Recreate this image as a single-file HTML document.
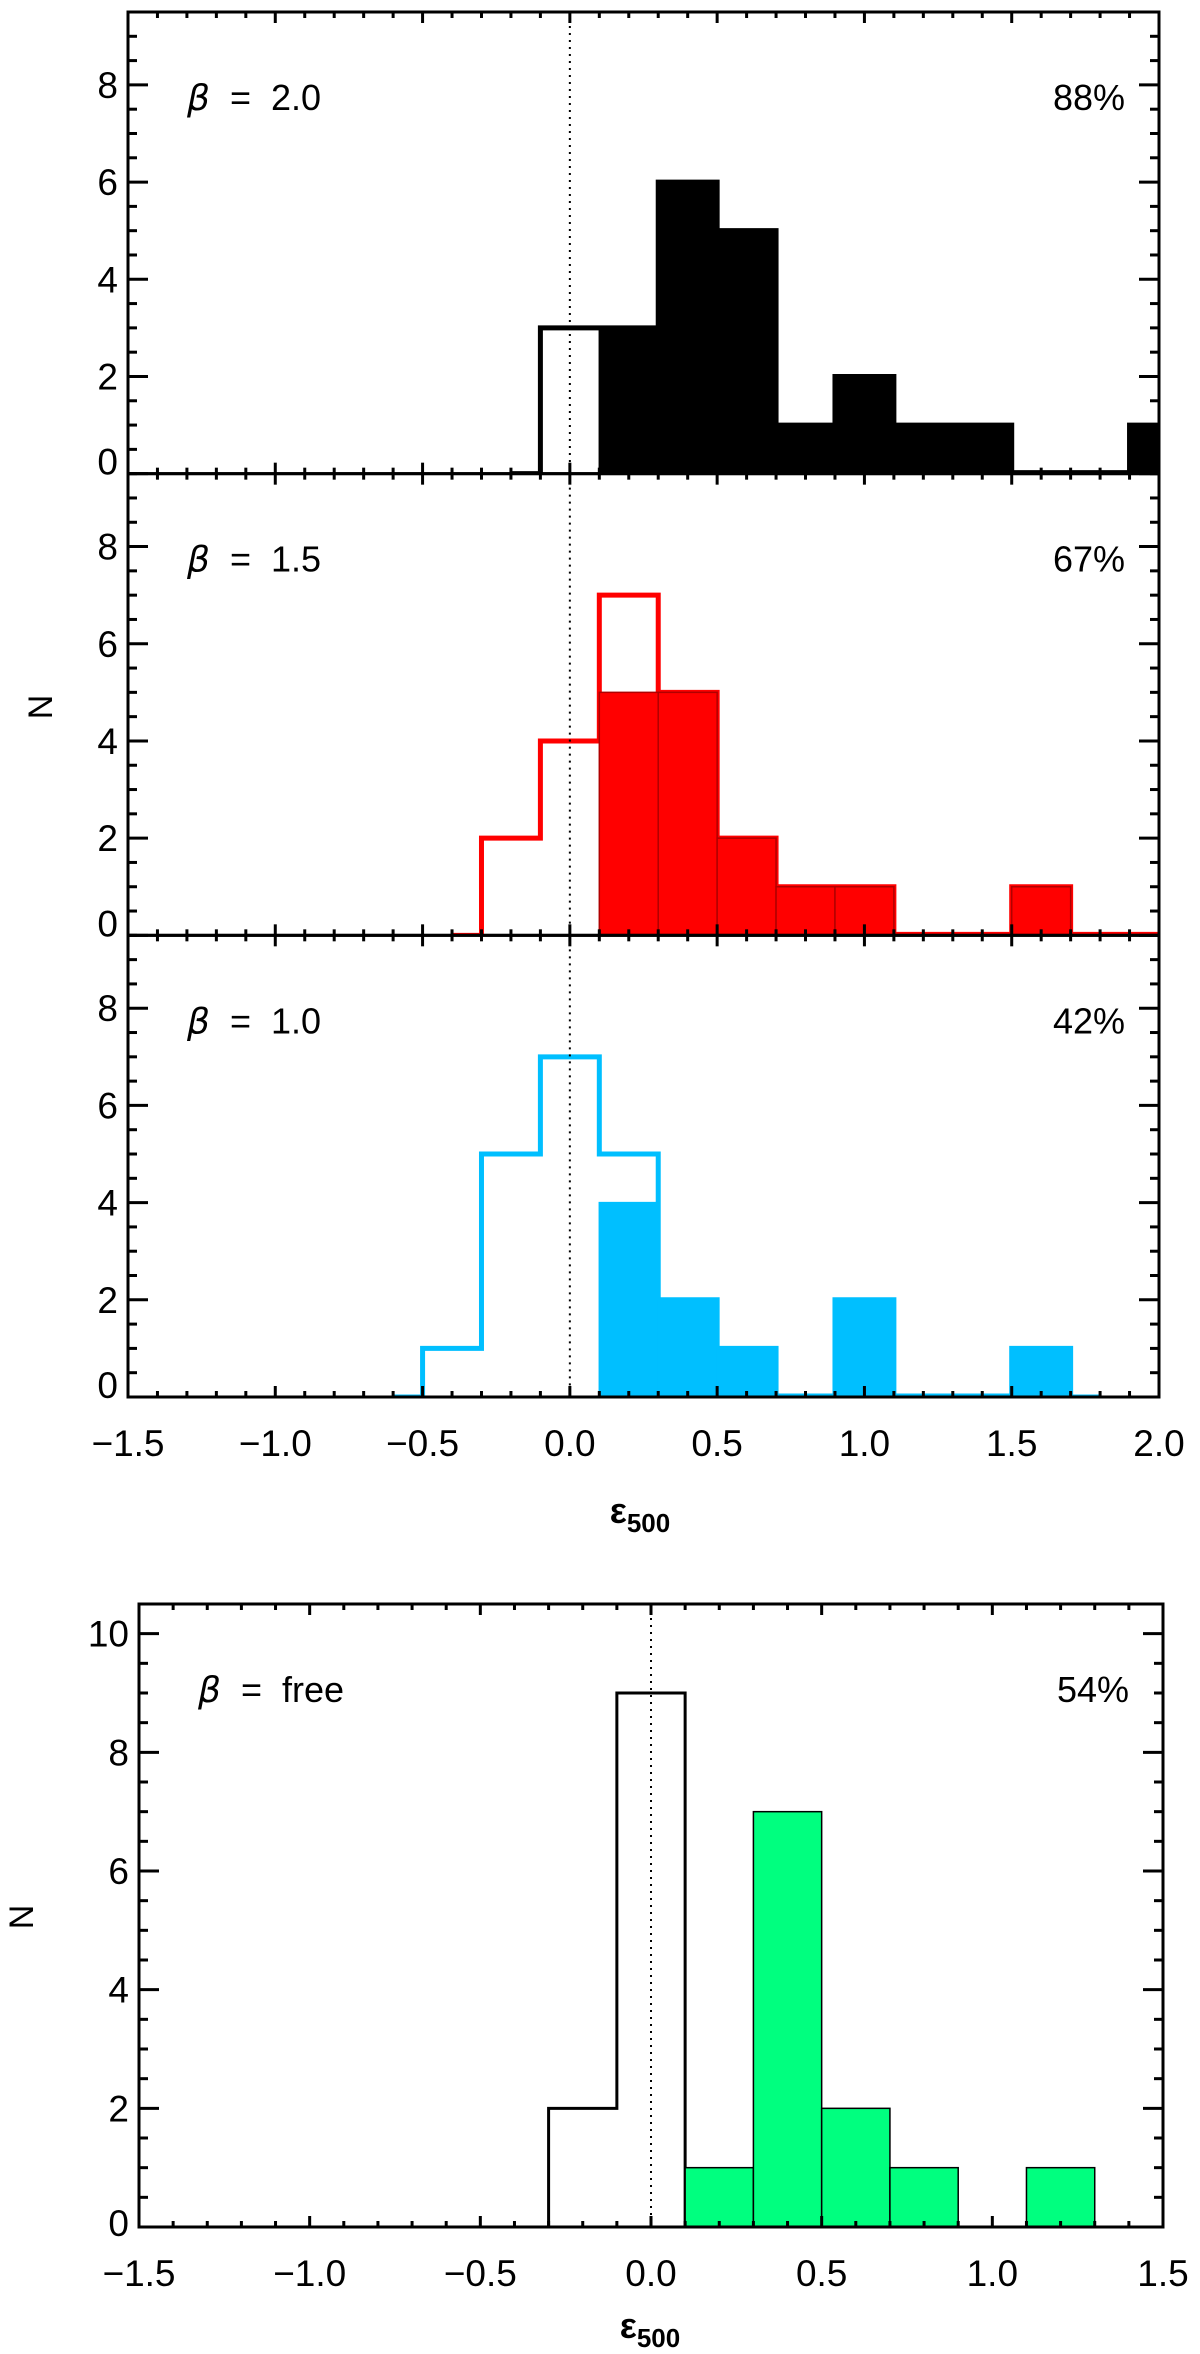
<!DOCTYPE html>
<html><head><meta charset="utf-8"><style>
html,body{margin:0;padding:0;background:#fff;}
svg{display:block;font-family:"Liberation Sans","DejaVu Sans",sans-serif;}
</style></head><body>
<svg id="fig" width="1200" height="2354" viewBox="0 0 1200 2354" xmlns="http://www.w3.org/2000/svg"></svg>
<script>
// ---- data ----
const betaLabels = ["2.0", "1.5", "1.0"];
const percentLabels = ["88%", "67%", "42%"];
const panelColors = ["#000000", "#ff0000", "#00bfff"];
const panelEdge = ["#000000", "#b00000", "#00bfff"];
const blackCenters = [-0.2,0.0,0.2,0.4,0.6,0.8,1.0,1.2,1.4,1.6,1.8,2.0];
const blackTotal   = [0,3,3,6,5,1,2,1,1,0,0,1];
const blackFillCenters = [0.2,0.4,0.6,0.8,1.0,1.2,1.4,1.6,1.8,2.0];
const blackFill        = [3,6,5,1,2,1,1,0,0,1];
const redCenters = [-0.4,-0.2,0.0,0.2,0.4,0.6,0.8,1.0,1.2,1.4,1.6,1.8,2.0];
const redTotal   = [0,2,4,7,5,2,1,1,0,0,1,0,0];
const redFillCenters = [0.2,0.4,0.6,0.8,1.0,1.2,1.4,1.6,1.8,2.0];
const redFill        = [5,5,2,1,1,0,0,1,0,0];
const blueCenters = [-0.6,-0.4,-0.2,0.0,0.2,0.4,0.6,0.8,1.0,1.2,1.4,1.6,1.8];
const blueTotal   = [0,1,5,7,5,2,1,0,2,0,0,1,0];
const blueFillCenters = [0.2,0.4,0.6,0.8,1.0,1.2,1.4,1.6];
const blueFill        = [4,2,1,0,2,0,0,1];
const freeCenters = [-0.2,0.0];
const freeTotal   = [2,9];
const freeFillCenters = [0.2,0.4,0.6,0.8,1.0,1.2];
const freeFill        = [1,7,2,1,0,1];
const topXTicks = [-1.5,-1.0,-0.5,0.0,0.5,1.0,1.5,2.0];
const topXTickLabels = ["\u22121.5","\u22121.0","\u22120.5","0.0","0.5","1.0","1.5","2.0"];
const botXTicks = [-1.5,-1.0,-0.5,0.0,0.5,1.0,1.5];
const botXTickLabels = ["\u22121.5","\u22121.0","\u22120.5","0.0","0.5","1.0","1.5"];
const topYTicks = [0,2,4,6,8];
const botYTicks = [0,2,4,6,8,10];
const BIN = 0.2;

const NS="http://www.w3.org/2000/svg";
const svg=document.getElementById('fig');
function mk(tag,attrs,parent){const e=document.createElementNS(NS,tag);for(const k in attrs)e.setAttribute(k,attrs[k]);(parent||svg).appendChild(e);return e;}

function panel(o){
  const g=mk('g',{});
  
  
  const X=v=>o.x0+(v-o.xmin)/(o.xmax-o.xmin)*(o.x1-o.x0);
  const Y=v=>o.y1-(v-o.ymin)/(o.ymax-o.ymin)*(o.y1-o.y0);
  const clip='clip-'+o.name;
  const cp=mk('clipPath',{id:clip},g);mk('rect',{x:o.x0,y:o.y0,width:o.x1-o.x0,height:o.y1-o.y0},cp);
  const plot=mk('g',{'clip-path':'url(#'+clip+')'},g);
  let d='';
  const n=o.centers.length;
  o.centers.forEach((c,i)=>{
    const v=o.total[i];
    const a=(i===0)?(v===0?c:c-BIN/2):c-BIN/2;
    const b=(i===n-1&&v===0)?c:c+BIN/2;
    if(i===0) d+=`M${X(a)},${Y(0)}L${X(a)},${Y(v)}`;
    else d+=`L${X(a)},${Y(v)}`;
    d+=`L${X(b)},${Y(v)}`;
    if(i===n-1) d+=`L${X(b)},${Y(0)}`;
  });
  const outline=mk('path',{d:d,fill:'none',stroke:o.color,'stroke-width':o.lw},plot);
  
  
  o.fillCenters.forEach((c,i)=>{
    const v=o.fill[i];
    if(v===0){ if(o.zeroLine) mk('line',{x1:X(c-BIN/2),x2:X(c+BIN/2),y1:Y(0)-1,y2:Y(0)-1,stroke:o.fillColor,'stroke-width':o.lw},plot); return; }
    const r=mk('rect',{x:X(c-BIN/2),y:Y(v),width:X(c+BIN/2)-X(c-BIN/2),height:Y(0)-Y(v),fill:o.fillColor,stroke:o.edge,'stroke-width':1.5},plot);
    
    
  });
  const dl=mk('line',{x1:X(0),x2:X(0),y1:o.y0,y2:o.y1,stroke:'#000','stroke-width':2,'stroke-dasharray':'2,5'},g);
  
  
  mk('rect',{x:o.x0,y:o.y0,width:o.x1-o.x0,height:o.y1-o.y0,fill:'none',stroke:'#000','stroke-width':3},g);
  for(let v=o.xmin;v<=o.xmax+1e-6;v+=0.1){
    const maj=Math.abs(v*2-Math.round(v*2))<1e-6;const L=maj?11:6;
    mk('line',{x1:X(v),x2:X(v),y1:o.y1,y2:o.y1-L,stroke:'#000','stroke-width':3},g);
    mk('line',{x1:X(v),x2:X(v),y1:o.y0,y2:o.y0+L,stroke:'#000','stroke-width':3},g);
  }
  for(let v=o.ymin;v<=o.ymax+1e-6;v+=0.5){
    const maj=Math.abs(v/2-Math.round(v/2))<1e-6;const L=maj?20:9;
    mk('line',{x1:o.x0,x2:o.x0+L,y1:Y(v),y2:Y(v),stroke:'#000','stroke-width':3},g);
    mk('line',{x1:o.x1,x2:o.x1-L,y1:Y(v),y2:Y(v),stroke:'#000','stroke-width':3},g);
  }
  o.yTicks.forEach(v=>{
    const t=mk('text',{x:o.x0-10,y:Y(v)+13-(v===0?o.zeroShift:0),'text-anchor':'end','font-size':37},g);
    t.textContent=String(v);
    
    
  });
  if(o.xTicks){
    o.xTicks.forEach((v,i)=>{
      const t=mk('text',{x:X(v),y:o.y1+59,'text-anchor':'middle','font-size':37},g);
      t.textContent=o.xTickLabels[i];
      
      
    });
  }
  const bt=mk('text',{x:o.x0+59,y:o.y0+98,'font-size':36},g);
  
  
  const b1=mk('tspan',{'font-style':'italic','font-family':'"DejaVu Sans",sans-serif'},bt);b1.textContent='\u03B2';
  const b2=mk('tspan',{},bt);b2.textContent='  =  '+o.beta;
  bt.style.whiteSpace='pre';
  const pt=mk('text',{x:o.x1-34,y:o.y0+98,'text-anchor':'end','font-size':36},g);
  pt.textContent=o.pct;
  
  
}

const tops=[{c:blackCenters,t:blackTotal,fc:blackFillCenters,f:blackFill},
            {c:redCenters,t:redTotal,fc:redFillCenters,f:redFill},
            {c:blueCenters,t:blueTotal,fc:blueFillCenters,f:blueFill}];
const names=['panel-beta-2-0','panel-beta-1-5','panel-beta-1-0'];
const pTop=12,pBot=1397,ph=(pBot-pTop)/3;
tops.forEach((s,i)=>{
  panel({name:names[i],x0:128,x1:1159,y0:pTop+i*ph,y1:pTop+(i+1)*ph,xmin:-1.5,xmax:2.0,ymin:0,ymax:9.5,
    centers:s.c,total:s.t,fillCenters:s.fc,fill:s.f,color:panelColors[i],fillColor:panelColors[i],edge:panelEdge[i],lw:5,zeroLine:true,
    yTicks:topYTicks,zeroShift:12,xTicks:i===2?topXTicks:null,xTickLabels:topXTickLabels,beta:betaLabels[i],pct:percentLabels[i]});
});
panel({name:'panel-beta-free',x0:139,x1:1163,y0:1604,y1:2227,xmin:-1.5,xmax:1.5,ymin:0,ymax:10.5,
  centers:freeCenters,total:freeTotal,fillCenters:freeFillCenters,fill:freeFill,color:'#000',fillColor:'#00ff7f',edge:'#000',lw:3,zeroLine:false,
  yTicks:botYTicks,zeroShift:4,xTicks:botXTicks,xTickLabels:botXTickLabels,beta:'free',pct:'54%'});

function xtitle(x,y,name){
  const t=mk('text',{x:x,y:y,'font-size':36,'font-weight':'bold','text-anchor':'middle'});
  
  
  const a=mk('tspan',{},t);a.textContent='\u03B5';
  const b=mk('tspan',{'font-size':26,dy:9},t);b.textContent='500';
}
xtitle(640,1523,'x-axis-title-top');
xtitle(650,2338,'x-axis-title-bottom');
function ytitle(x,y,name){
  const t=mk('text',{x:x,y:y,'font-size':34,'text-anchor':'middle',transform:`rotate(-90 ${x} ${y})`});
  t.textContent='N';
  
  
}
ytitle(52,707,'y-axis-title-top');
ytitle(33,1917,'y-axis-title-bottom');
</script>
</body></html>
